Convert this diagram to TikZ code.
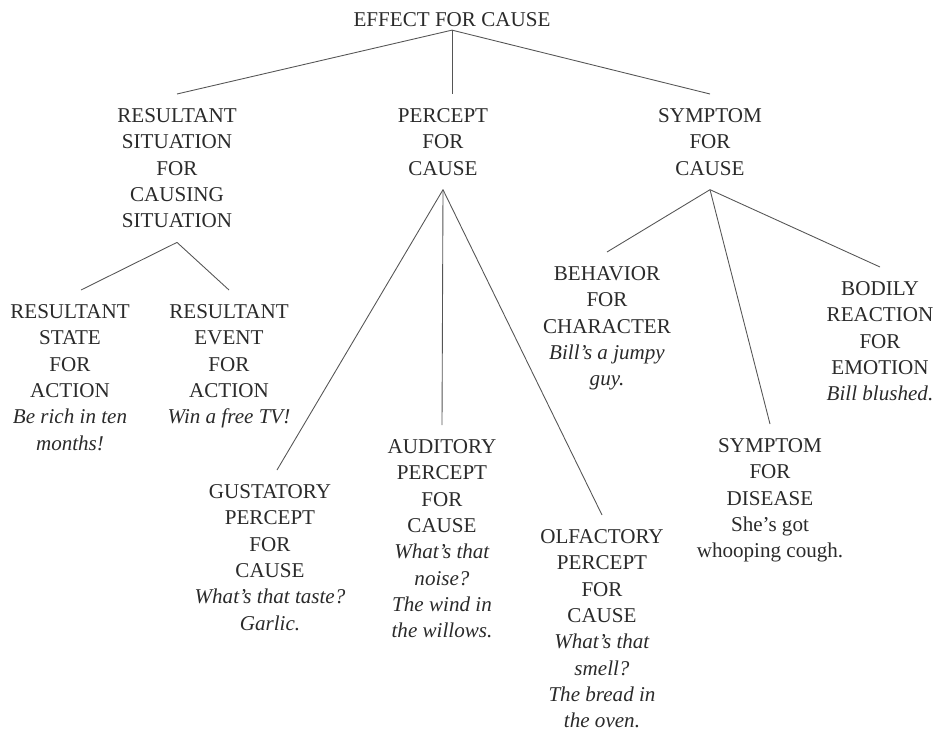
\documentclass[tikz,border=0pt]{standalone}
\usepackage{fontspec}
\setmainfont{Liberation Serif}
\usetikzlibrary{calc}
\definecolor{ink}{HTML}{2A2A2A}
\definecolor{branch}{HTML}{555555}

\begin{document}
\begin{tikzpicture}[x=0.02cm,y=-0.02cm,
    cat/.style={align=center,anchor=north,inner xsep=0pt,inner ysep=8pt,text=ink,font=\fontsize{12}{15}\selectfont},
    link/.style={draw=branch,line width=0.5pt}]
  \useasboundingbox (0,0) rectangle (943,733);

  % Top level
  \node[cat,inner ysep=1.5pt] (top) at (452,10) {EFFECT FOR CAUSE};

  % First level
  \node[cat] (rs) at (177,94) {RESULTANT\\SITUATION\\FOR\\CAUSING\\SITUATION};
  \node[cat] (pc) at (443,94) {PERCEPT\\FOR\\CAUSE};
  \node[cat] (sc) at (710,94) {SYMPTOM\\FOR\\CAUSE};

  % Resultant situation
  \node[cat] (rsa) at (70,290) {RESULTANT\\STATE\\FOR\\ACTION\\\textit{Be rich in ten}\\\textit{months!}};
  \node[cat] (rea) at (229,290) {RESULTANT\\EVENT\\FOR\\ACTION\\\textit{Win a free TV!}};

  % Percept
  \node[cat] (gus) at (270,470) {GUSTATORY\\PERCEPT\\FOR\\CAUSE\\\textit{What's that taste?}\\\textit{Garlic.}};
  \node[cat] (aud) at (442,425) {AUDITORY\\PERCEPT\\FOR\\CAUSE\\\textit{What's that}\\\textit{noise?}\\\textit{The wind in}\\\textit{the willows.}};
  \node[cat] (olf) at (602,515) {OLFACTORY\\PERCEPT\\FOR\\CAUSE\\\textit{What's that}\\\textit{smell?}\\\textit{The bread in}\\\textit{the oven.}};

  % Symptom
  \node[cat] (beh) at (607,252) {BEHAVIOR\\FOR\\CHARACTER\\\textit{Bill's a jumpy}\\\textit{guy.}};
  \node[cat] (dis) at (770,424) {SYMPTOM\\FOR\\DISEASE\\She's got\\whooping cough.};
  \node[cat] (bod) at (880,267) {BODILY\\REACTION\\FOR\\EMOTION\\\textit{Bill blushed.}};

  % Branches
  \draw[link] (top.south) -- (rs.north);
  \draw[link] (top.south) -- (top.south |- pc.north);
  \draw[link] (top.south) -- (sc.north);

  \draw[link] (rs.south) -- ([xshift=0.22cm]rsa.north);
  \draw[link] (rs.south) -- (rea.north);

  \draw[link] (pc.south) -- ([xshift=0.14cm]gus.north);
  \draw[link] (pc.south) -- (aud.north);
  \draw[link] (pc.south) -- (olf.north);

  \draw[link] (sc.south) -- (beh.north);
  \draw[link] (sc.south) -- (dis.north);
  \draw[link] (sc.south) -- (bod.north);
\end{tikzpicture}
\end{document}
